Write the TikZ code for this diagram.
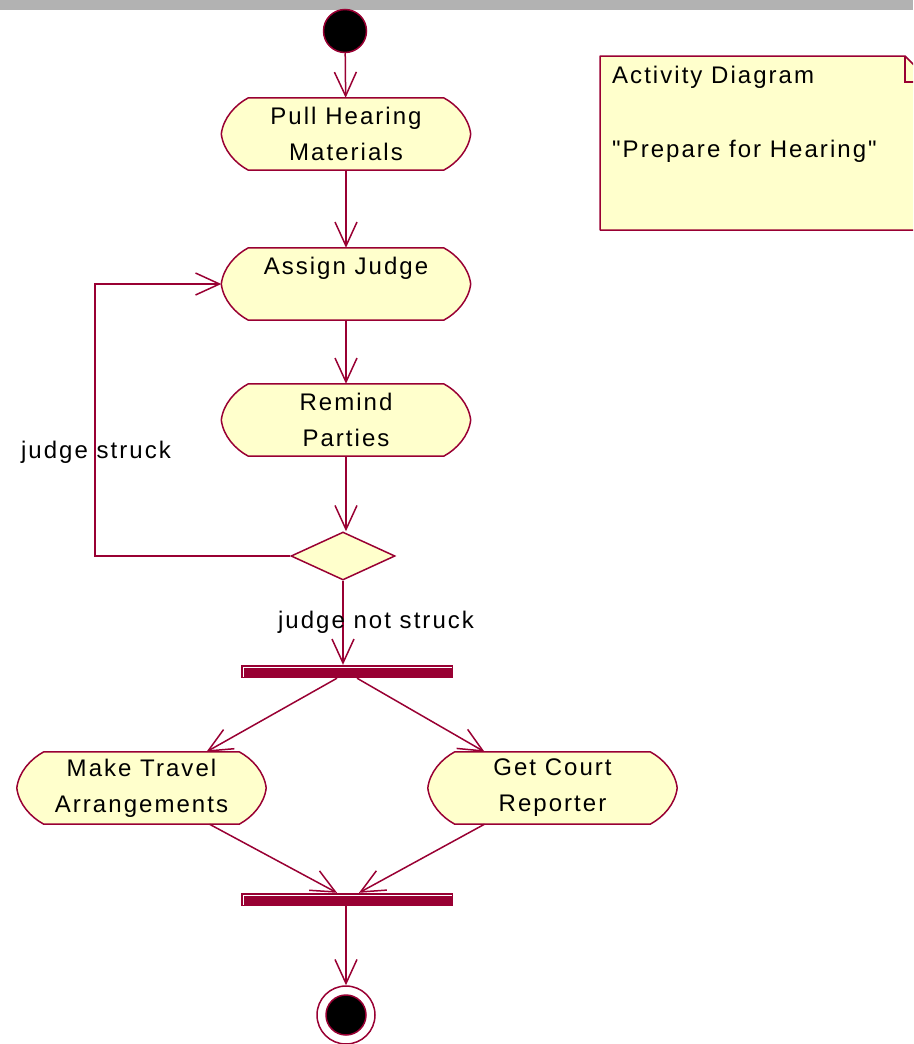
\documentclass[tikz,border=0pt]{standalone}
\usepackage{fontspec}
\setmainfont{Liberation Sans}[LetterSpace=8.5]
\newfontfamily\plainfont{Liberation Sans}[LetterSpace=8.5]
\usetikzlibrary{arrows.meta,calc,backgrounds,shapes.geometric}
\definecolor{rose}{HTML}{990033}
\definecolor{pale}{HTML}{FFFFCC}
\definecolor{band}{HTML}{B2B2B2}
\begin{document}
\begin{tikzpicture}[x=1pt,y=-1pt,
  font=\fontsize{24}{36}\selectfont,
  line/.style={draw=rose, line width=1.5pt},
  flow/.style={line, -{Straight Barb[length=24pt,width=22pt]}},
  act/.style={rectangle, minimum width=249pt, minimum height=72pt, inner sep=0pt, align=center},
  actshape/.style={draw=rose, fill=pale, line width=1.5pt, line join=round},
  bar/.style={rectangle, fill=rose, minimum width=212pt, minimum height=13pt, inner sep=0pt},
  decision/.style={diamond, draw=rose, fill=pale, line width=1.5pt, minimum width=104pt, minimum height=48pt, inner sep=0pt},
  lbl/.style={inner sep=0pt}]
\useasboundingbox (0,0) rectangle (913,1044);
\clip (0,0) rectangle (913,1044);
\fill[band] (0,0) rectangle (913,10);

% note
\path[actshape] (600,56) -- (905,56) -- (931,82) -- (931,230) -- (600,230) -- cycle;
\draw[line] (905,56) -- (905,82) -- (931,82);
\node[lbl, anchor=base west] (notetitle) at (612,83) {Activity Diagram};
\node[lbl, anchor=base west, font=\plainfont\fontsize{24}{36}\selectfont] (notename) at (612,157) {"Prepare for Hearing"};

% nodes
\node[circle, fill=black, draw=rose, line width=1.5pt, minimum size=43pt, inner sep=0pt] (start) at (345,31) {};
\node[act] (pull) at (346,134) {Pull Hearing\\Materials};
\node[act] (assign) at (346,284) {Assign Judge\\\phantom{M}};
\node[act] (remind) at (346,420) {Remind\\Parties};
\node[decision] (dec) at (343,556) {};
\node[bar] (fork) at (347,671.5) {};
\node[act] (travel) at (141.5,788) {Make Travel\\Arrangements};
\node[act] (court) at (552.5,788) {Get Court\\Reporter};
\node[bar] (join) at (347,899.5) {};
\node[circle, fill=white, draw=rose, line width=1.5pt, minimum size=58pt, inner sep=0pt] (end) at (346,1015) {};
\node[circle, fill=black, draw=rose, line width=1.5pt, minimum size=40pt, inner sep=0pt] (endin) at (346,1015) {};

% activity outlines
\begin{scope}[on background layer]
\foreach \n in {pull,assign,remind,travel,court} {
  \path[actshape] ($(\n.north west)+(27,0)$) -- ($(\n.north east)+(-27,0)$)
    .. controls ($(\n.north east)+(-14,7)$) and ($(\n.north east)+(-2,20)$) .. (\n.east)
    .. controls ($(\n.south east)+(-2,-20)$) and ($(\n.south east)+(-14,-7)$) .. ($(\n.south east)+(-27,0)$)
    -- ($(\n.south west)+(27,0)$)
    .. controls ($(\n.south west)+(14,-7)$) and ($(\n.south west)+(2,-20)$) .. (\n.west)
    .. controls ($(\n.north west)+(2,20)$) and ($(\n.north west)+(14,7)$) .. cycle;
}
\end{scope}

% bar highlights
\foreach \b in {fork,join} {
  \draw[white, line width=0.8pt] ($(\b.south west)+(2.5,-1.5)$) |- ($(\b.north east)+(-1.5,2.5)$);
}

% connectors
\coordinate (loop) at (95,284);
\draw[flow] (start) -- (pull);
\draw[flow] (pull) -- (assign);
\draw[flow] (assign) -- (remind);
\draw[flow] (remind.south) -- (remind.south |- dec.north);
\draw[flow] (dec.west) -| (loop) -- (assign.west);
\draw[flow] (dec.south) -- (dec.south |- fork.north);
\draw[flow] ($(fork.south)+(-10,0)$) -- ($(travel.north)+(65,0)$);
\draw[flow] ($(fork.south)+(10,0)$) -- ($(court.north)+(-68,0)$);
\draw[flow] ($(travel.south)+(68,0)$) -- ($(join.north)+(-10,0)$);
\draw[flow] ($(court.south)+(-68,0)$) -- ($(join.north)+(12,0)$);
\draw[flow] (join.south -| end.north) -- (end.north);

% labels
\node[lbl] (lstruck) at (96,452) {judge struck};
\node[lbl] (lnot) at (376,622) {judge not struck};
\end{tikzpicture}
\end{document}
